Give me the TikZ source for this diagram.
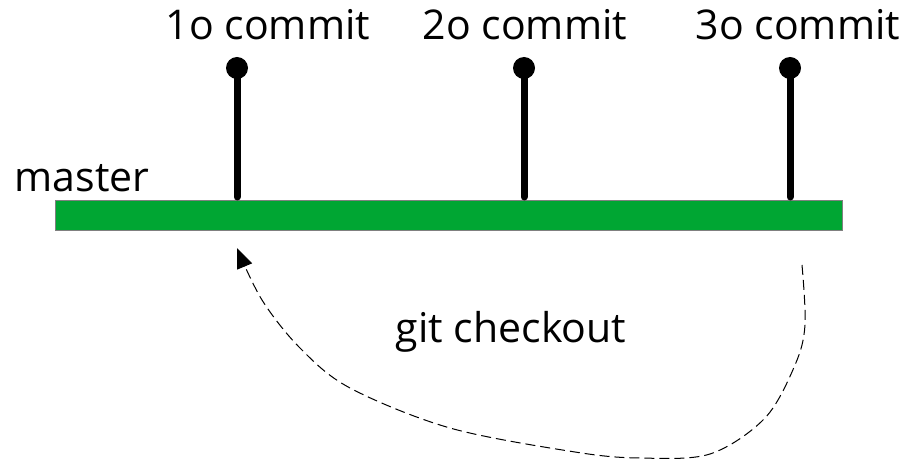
\documentclass[tikz,border=0pt]{standalone}
\usepackage{fontspec}
\setmainfont{Open Sans}
\usetikzlibrary{arrows.meta}
\definecolor{bargreen}{HTML}{00A633}
\begin{document}
\begin{tikzpicture}[x=1pt,y=-1pt,
  lbl/.style={font=\fontsize{41}{45}\selectfont, inner sep=0pt, anchor=base},
  stem/.style={line width=7pt, line cap=round},
  knob/.style={circle, fill=black, minimum size=22pt, inner sep=0pt},
  dashconn/.style={line width=1pt, dash pattern=on 10pt off 5pt, -{Triangle[length=20pt,width=16pt]}}]
\useasboundingbox (0,0) rectangle (905,462);
\node[draw=gray, line width=1pt, fill=bargreen, minimum width=787pt, minimum height=30pt, inner sep=0pt] (bar) at (448.5,216) {};
\node[knob] (k1) at (237,68) {};
\node[knob] (k2) at (524,68) {};
\node[knob] (k3) at (790,68) {};
\coordinate (b1) at (237,197);
\coordinate (b2) at (524,197);
\coordinate (b3) at (790,197);
\draw[stem] (k1.center) -- (b1);
\draw[stem] (k2.center) -- (b2);
\draw[stem] (k3.center) -- (b3);
\node[lbl] (c1) at (268,40) {1o commit};
\node[lbl] (c2) at (525,40) {2o commit};
\node[lbl] (c3) at (798,40) {3o commit};
\node[lbl] (m) at (82,192) {master};
\node[lbl] (g) at (511,342) {git checkout};
\coordinate (s) at (802,265);
\coordinate (e) at (237,248);
\draw[dashconn] plot[smooth, tension=0.55] coordinates {(s) (805,325) (795,365) (765,418) (710,454) (640,458) (575,452) (450,428) (350,388) (300,348) (262,300) (e)};
\end{tikzpicture}
\end{document}
